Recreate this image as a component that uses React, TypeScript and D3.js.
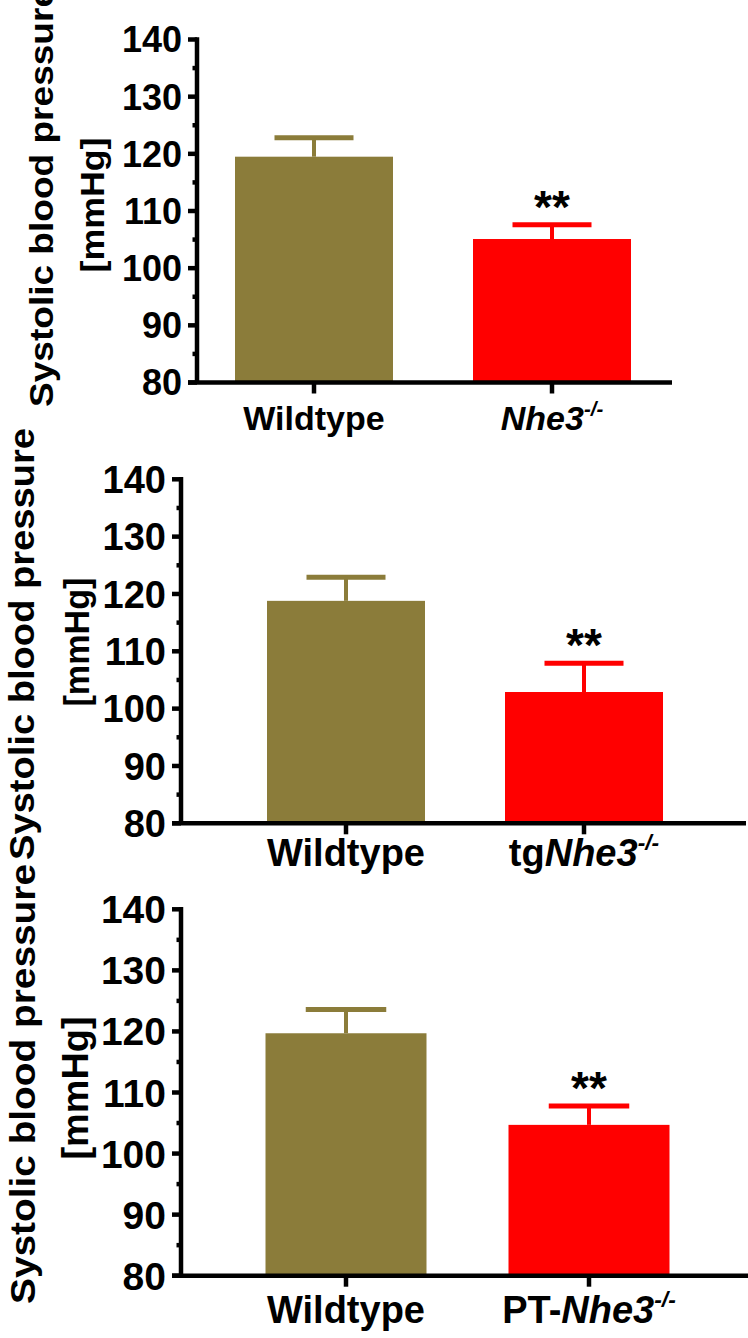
import * as d3 from 'd3'

// values
const groups = ['Wildtype', 'Knockout']
const knockoutPrefixes = ['', 'tg', 'PT-']
const meansNhe3 = [119.5, 105.1]
const semNhe3 = [3.3, 2.5]
const meansTg = [118.8, 102.9]
const semTg = [4.1, 5.0]
const meansPt = [119.7, 104.7]
const semPt = [3.9, 3.1]
const significance = ['', '**']
const yTicks = [80, 90, 100, 110, 120, 130, 140]
const yMinorTicks = [85, 95, 105, 115, 125, 135]
const barColors = ['#8b7c3a', '#ff0000']

const FONT = '"Liberation Sans", Arial, sans-serif'

type Layout = {
  x0: number
  x1: number
  yTop: number
  yBot: number
  centers: [number, number]
  bw: number
  labelY: number
  labelSize: number
  tickSize: number
  title: { x: number; start: number; length: number; size: number }
  unit: { x: number; y: number; length: number; size: number }
}

const layouts: Layout[] = [
  {
    x0: 197, x1: 672, yTop: 39.5, yBot: 382.5, centers: [314, 552], bw: 158,
    labelY: 430, labelSize: 34, tickSize: 36,
    title: { x: 53, start: 407, length: 420, size: 33 },
    unit: { x: 104, y: 205, length: 135, size: 34 },
  },
  {
    x0: 181, x1: 746, yTop: 479.3, yBot: 823.3, centers: [346, 584], bw: 158,
    labelY: 866, labelSize: 38, tickSize: 38,
    title: { x: 34, start: 860, length: 432, size: 35 },
    unit: { x: 89, y: 642, length: 129, size: 35 },
  },
  {
    x0: 181, x1: 750, yTop: 909.3, yBot: 1275.7, centers: [346, 589], bw: 161,
    labelY: 1323, labelSize: 38, tickSize: 39,
    title: { x: 35, start: 1304, length: 440, size: 35 },
    unit: { x: 88, y: 1088, length: 143, size: 36 },
  },
]

const panelMeans = [meansNhe3, meansTg, meansPt]
const panelSem = [semNhe3, semTg, semPt]

function Panel({ idx }: { idx: number }) {
  const L = layouts[idx]
  const means = panelMeans[idx]
  const sem = panelSem[idx]
  const y = d3.scaleLinear().domain([80, 140]).range([L.yBot, L.yTop])
  const x = d3
    .scaleBand<string>()
    .domain(groups)
    .range([L.centers[0] - L.bw / 2, L.centers[1] + L.bw / 2])
    .paddingInner(1 - L.bw / (L.centers[1] - L.centers[0]))
    .paddingOuter(0)
  const sw = 4.5

  return (
    <g>
      {groups.map((g, i) => {
        const bx = x(g) ?? 0
        const cx = bx + x.bandwidth() / 2
        const top = y(means[i])
        const capY = y(means[i] + sem[i])
        return (
          <g key={g}>
            <rect x={bx} y={top} width={x.bandwidth()} height={y(80) - top} fill={barColors[i]} />
            <line x1={cx} x2={cx} y1={top} y2={capY} stroke={barColors[i]} strokeWidth={4} />
            <line
              x1={cx - x.bandwidth() / 4}
              x2={cx + x.bandwidth() / 4}
              y1={capY}
              y2={capY}
              stroke={barColors[i]}
              strokeWidth={5}
            />
            {significance[i] && (
              <text
                x={cx}
                y={capY - 2}
                textAnchor="middle"
                fontFamily={FONT}
                fontWeight="bold"
                fontSize={46}
              >
                {significance[i]}
              </text>
            )}
            <line x1={cx} x2={cx} y1={y(80)} y2={y(80) + 11} stroke="#000" strokeWidth={sw} />
          </g>
        )
      })}

      {/* y axis */}
      <line x1={L.x0} x2={L.x0} y1={y(140) - sw / 2} y2={y(80)} stroke="#000" strokeWidth={sw} />
      {yTicks.map((t) => (
        <g key={t}>
          <line x1={L.x0 - 9} x2={L.x0} y1={y(t)} y2={y(t)} stroke="#000" strokeWidth={sw} />
          <text
            x={L.x0 - 15}
            y={y(t)}
            dy="0.36em"
            textAnchor="end"
            fontFamily={FONT}
            fontWeight="bold"
            fontSize={L.tickSize}
          >
            {t}
          </text>
        </g>
      ))}
      {yMinorTicks.map((t) => (
        <line key={t} x1={L.x0 - 4.5} x2={L.x0} y1={y(t)} y2={y(t)} stroke="#000" strokeWidth={sw} />
      ))}

      {/* x axis */}
      <line x1={L.x0 - 9} x2={L.x1} y1={y(80)} y2={y(80)} stroke="#000" strokeWidth={sw} />

      {/* category labels */}
      <text
        x={L.centers[0]}
        y={L.labelY}
        textAnchor="middle"
        fontFamily={FONT}
        fontWeight="bold"
        fontSize={L.labelSize}
      >
        {groups[0]}
      </text>
      <text
        x={L.centers[1]}
        y={L.labelY}
        textAnchor="middle"
        fontFamily={FONT}
        fontWeight="bold"
        fontSize={L.labelSize}
      >
        {knockoutPrefixes[idx]}
        <tspan fontStyle="italic">Nhe3</tspan>
        <tspan fontStyle="italic" fontSize={L.labelSize * 0.6} dy={-L.labelSize * 0.42}>
          -/-
        </tspan>
      </text>

      {/* axis title */}
      <text
        transform={`translate(${L.title.x},${L.title.start}) rotate(-90)`}
        fontFamily={FONT}
        fontWeight="bold"
        fontSize={L.title.size}
        textLength={L.title.length}
        lengthAdjust="spacingAndGlyphs"
      >
        Systolic blood pressure
      </text>
      <text
        transform={`translate(${L.unit.x},${L.unit.y}) rotate(-90)`}
        textAnchor="middle"
        fontFamily={FONT}
        fontWeight="bold"
        fontSize={L.unit.size}
        textLength={L.unit.length}
        lengthAdjust="spacingAndGlyphs"
      >
        [mmHg]
      </text>
    </g>
  )
}

export default function App() {
  return (
    <svg
      width={748}
      height={1338}
      viewBox="0 0 748 1338"
      style={{ position: 'absolute', left: 0, top: 0, background: '#fff' }}
    >
      <rect width={748} height={1338} fill="#fff" />
      {layouts.map((_, i) => (
        <Panel key={i} idx={i} />
      ))}
    </svg>
  )
}
